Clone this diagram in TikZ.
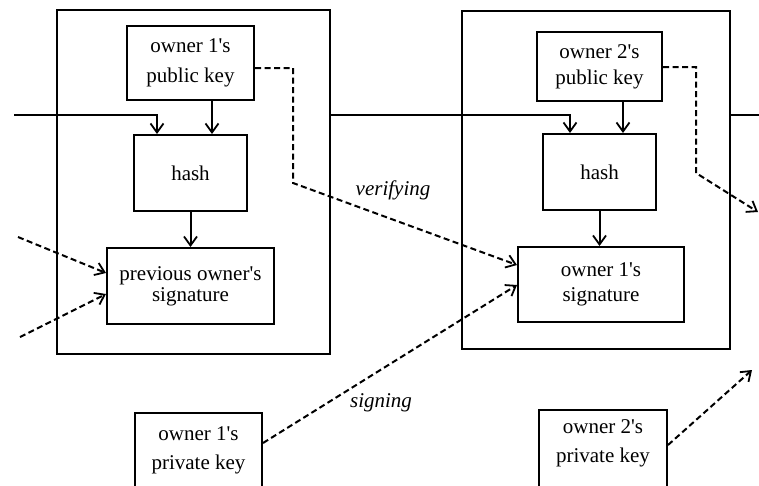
\documentclass[tikz,border=0pt]{standalone}
\usepackage{fontspec}
\setmainfont{Liberation Serif}[Ligatures=TeXOff]
\usetikzlibrary{arrows.meta,calc}
\begin{document}
\begin{tikzpicture}[x=1pt,y=-1pt,
  box/.style={draw,line width=2pt,inner sep=0pt,align=center,font=\fontsize{21}{25}\selectfont},
  outer/.style={draw,line width=2.2pt,inner sep=0pt},
  arr/.style={line width=2pt,-{Straight Barb[length=9pt,width=13pt,line width=1.8pt]}},
  darr/.style={line width=2pt,dash pattern=on 6pt off 3.5pt,-{Straight Barb[length=9pt,width=13pt,line width=1.8pt]}},
  lbl/.style={font=\fontsize{21}{24}\selectfont\itshape,inner sep=0pt},
  txt/.style={align=center,inner sep=0pt,font=\fontsize{21}{29}\selectfont}]
\useasboundingbox (0,0) rectangle (759,485);
% outer blocks
\node[outer,minimum width=273,minimum height=344] (outer1) at (193.5,182) {};
\node[outer,minimum width=268,minimum height=338] (outer2) at (596,180) {};
% block 1
\node[box,minimum width=127,minimum height=74,font=\fontsize{21}{30}\selectfont] (pub1) at (190.5,63) {owner 1's\\public key};
\node[box,minimum width=113,minimum height=76] (hash1) at (190.5,173) {hash};
\node[box,minimum width=167,minimum height=76,font=\fontsize{21}{21}\selectfont] (sig0) at (190.5,286) {previous owner's\\signature};
% block 2
\node[box,minimum width=125,minimum height=69,font=\fontsize{21}{26}\selectfont] (pub2) at (599.5,66.5) {owner 2's\\public key};
\node[box,minimum width=113,minimum height=76] (hash2) at (599.5,172) {hash};
\node[box,minimum width=166,minimum height=75] (sig1) at (601,284.5) {owner 1's\\signature};
% private keys
\node[box,minimum width=127,minimum height=84] (priv1) at (198.5,455) {};
\node[txt] (priv1t) at (198.5,450) {owner 1's\\private key};
\node[box,minimum width=128,minimum height=84] (priv2) at (603,452) {};
\node[txt] (priv2t) at (603,443) {owner 2's\\private key};
% labels
\node[lbl] (verify) at (393,190) {verifying};
\node[lbl] (sign) at (381,403) {signing};
% free ends
\coordinate (in1) at (14,115);
\coordinate (out2) at (759,115);
\coordinate (dl1) at (18,237);
\coordinate (dl2) at (20,337);
\coordinate (dr1) at (758,212);
\coordinate (dr2) at (752,370);
% solid connectors
\draw[arr] (in1) -| ([xshift=24pt]hash1.north west);
\draw[arr] ([xshift=21.5pt]pub1.south) -- ([xshift=21.5pt]pub1.south |- hash1.north);
\draw[arr] (hash1.south) -- (sig0.north);
\draw[arr] (outer1.east |- in1) -| ([xshift=28pt]hash2.north west);
\draw[arr] ([xshift=23.5pt]pub2.south) -- ([xshift=23.5pt]pub2.south |- hash2.north);
\draw[arr] (hash2.south) -- (hash2.south |- sig1.north);
\draw[line width=2pt] (outer2.east |- out2) -- (out2);
% dashed connectors
\draw[darr] ([yshift=-5pt]pub1.east) -- (293,68) -- (293,183) -- ([yshift=19.5pt]sig1.west);
\draw[darr] ([yshift=-0.5pt]pub2.east) -- (696,67) -- (696,173) -- (dr1);
\draw[darr] (dl1) -- ([yshift=13pt]sig0.west);
\draw[darr] (dl2) -- ([yshift=-8pt]sig0.west);
\draw[darr] ([yshift=12pt]priv1.east) -- ([yshift=-0.5pt]sig1.west);
\draw[darr] ([yshift=7pt]priv2.east) -- (dr2);
\end{tikzpicture}
\end{document}
